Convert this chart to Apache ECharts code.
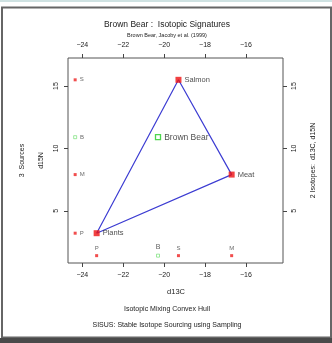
<!DOCTYPE html>
<html><head><meta charset="utf-8">
<script src="https://cdn.jsdelivr.net/npm/echarts@6/dist/echarts.min.js"></script>
<style>html,body{margin:0;padding:0;background:#fff}#c{width:332px;height:343px}</style>
</head><body><div id="c"></div>
<script>
// data
var sourceNames = ['Salmon', 'Meat', 'Plants'];
var sourceShort = ['S', 'M', 'P'];
var sourceD13C = [-19.3, -16.7, -23.3];
var sourceD15N = [15.5, 7.9, 3.2];
var mixtureName = 'Brown Bear';
var mixtureD13C = [-20.3];
var mixtureD15N = [10.9];
var leftColLabels = ['S', 'B', 'M', 'P'];
var leftColD13C = -24.35;
var leftColD15N = [15.5, 10.9, 7.9, 3.2];
var bottomRowLabels = ['P', 'B', 'S', 'M'];
var bottomRowD13C = [-23.3, -20.3, -19.3, -16.7];
var bottomRowD15N = 1.4;
var xTicks = [-24, -22, -20, -18, -16];
var yTicks = [5, 10, 15];

var FONT = 'Liberation Sans';
var fmt = function (v) { return String(v).replace('-', '\u2212'); };

// hull: Plants -> Salmon -> Meat -> Plants
var hullOrder = [2, 0, 1, 2];
var hull = hullOrder.map(function (i) { return [sourceD13C[i], sourceD15N[i]]; });

var chart = echarts.init(document.getElementById('c'), null, {renderer: 'canvas'});

function xAx(pos) {
  return {
    type: 'value', position: pos, min: -24.70, max: -14.19,
    splitLine: {show: false}, axisLine: {show: false},
    axisTick: {show: true, inside: false, length: 4, lineStyle: {color: '#444'}, customValues: xTicks},
    axisLabel: {show: true, margin: 9, fontFamily: FONT, fontSize: 7, color: '#222', formatter: fmt, customValues: xTicks}
  };
}
function yAx(pos) {
  return {
    type: 'value', position: pos, min: 0.81, max: 17.25,
    splitLine: {show: false}, axisLine: {show: false},
    axisTick: {show: true, inside: false, length: 4, lineStyle: {color: '#444'}, customValues: yTicks},
    axisLabel: {show: true, margin: 8, rotate: 90, fontFamily: FONT, fontSize: 7, color: '#222', customValues: yTicks}
  };
}

var smallLbl = {fontFamily: FONT, fontSize: 6, color: '#444'};

chart.setOption({
  animation: false,
  grid: {left: 68, top: 58, width: 215, height: 205, show: true, borderColor: '#555', borderWidth: 1, backgroundColor: 'transparent'},
  xAxis: [xAx('bottom'), xAx('top')],
  yAxis: [yAx('left'), yAx('right')],
  series: [
    {type: 'line', data: hull, showSymbol: false, lineStyle: {color: '#3c3cd2', width: 1.2}, z: 2},
    {type: 'scatter', symbol: 'rect', symbolSize: 6, itemStyle: {color: '#ee1111'}, z: 3,
      data: sourceNames.map(function (n, i) { return {value: [sourceD13C[i], sourceD15N[i]], name: n}; }),
      label: {show: true, position: 'right', distance: 3, formatter: '{b}', fontFamily: FONT, fontSize: 7.5, color: '#222'}},
    {type: 'scatter', symbol: 'rect', symbolSize: 5, itemStyle: {color: '#fff', borderColor: '#22cc22', borderWidth: 1.3}, z: 3,
      data: mixtureD13C.map(function (x, i) { return {value: [x, mixtureD15N[i]], name: mixtureName}; }),
      label: {show: true, position: 'right', distance: 3, formatter: '{b}', fontFamily: FONT, fontSize: 8.5, color: '#222'}},
    {type: 'scatter', symbol: 'rect', symbolSize: 3, z: 3,
      data: leftColLabels.map(function (n, i) {
        var isB = n === 'B';
        return {value: [leftColD13C, leftColD15N[i]], name: n,
          itemStyle: isB ? {color: '#fff', borderColor: '#66dd66', borderWidth: 0.8} : {color: '#ee2222'}};
      }),
      label: Object.assign({show: true, position: 'right', distance: 3, formatter: '{b}'}, smallLbl)},
    {type: 'scatter', symbol: 'rect', symbolSize: 3, z: 3,
      data: bottomRowLabels.map(function (n, i) {
        var isB = n === 'B';
        return {value: [bottomRowD13C[i], bottomRowD15N], name: n,
          itemStyle: isB ? {color: '#fff', borderColor: '#66dd66', borderWidth: 0.8} : {color: '#ee2222'},
          label: isB ? {fontSize: 7, color: '#333'} : {}};
      }),
      label: Object.assign({show: true, position: 'top', distance: 3, formatter: '{b}'}, smallLbl)}
  ],
  graphic: [
    {type: 'rect', shape: {x: 0, y: 0, width: 332, height: 2}, style: {fill: '#cfe2e2'}, silent: true},
    {type: 'rect', shape: {x: 2, y: 7.5, width: 329, height: 330}, style: {fill: 'none', stroke: '#666', lineWidth: 2}, silent: true},
    {type: 'rect', shape: {x: 0, y: 338, width: 332, height: 5}, style: {fill: '#4a4a4a'}, silent: true},
    {type: 'text', x: 167, y: 25, style: {text: 'Brown Bear :  Isotopic Signatures', fontFamily: FONT, fontSize: 8.5, fill: '#222', align: 'center', verticalAlign: 'middle'}},
    {type: 'text', x: 167, y: 35, style: {text: 'Brown Bear, Jacoby et al. (1999)', fontFamily: FONT, fontSize: 5.5, fill: '#222', align: 'center', verticalAlign: 'middle'}},
    {type: 'text', x: 176, y: 292, style: {text: 'd13C', fontFamily: FONT, fontSize: 7.5, fill: '#222', align: 'center', verticalAlign: 'middle'}},
    {type: 'text', x: 167, y: 309, style: {text: 'Isotopic Mixing Convex Hull', fontFamily: FONT, fontSize: 7, fill: '#222', align: 'center', verticalAlign: 'middle'}},
    {type: 'text', x: 167, y: 325.5, style: {text: 'SISUS: Stable Isotope Sourcing using Sampling', fontFamily: FONT, fontSize: 7, fill: '#222', align: 'center', verticalAlign: 'middle'}},
    {type: 'text', x: 41.5, y: 160.5, rotation: Math.PI / 2, style: {text: 'd15N', fontFamily: FONT, fontSize: 7, fill: '#222', align: 'center', verticalAlign: 'middle'}},
    {type: 'text', x: 22, y: 160.5, rotation: Math.PI / 2, style: {text: '3  Sources', fontFamily: FONT, fontSize: 7, fill: '#222', align: 'center', verticalAlign: 'middle'}},
    {type: 'text', x: 313, y: 160.5, rotation: Math.PI / 2, style: {text: '2 Isotopes:  d13C, d15N', fontFamily: FONT, fontSize: 7, fill: '#222', align: 'center', verticalAlign: 'middle'}}
  ]
});
</script></body></html>
